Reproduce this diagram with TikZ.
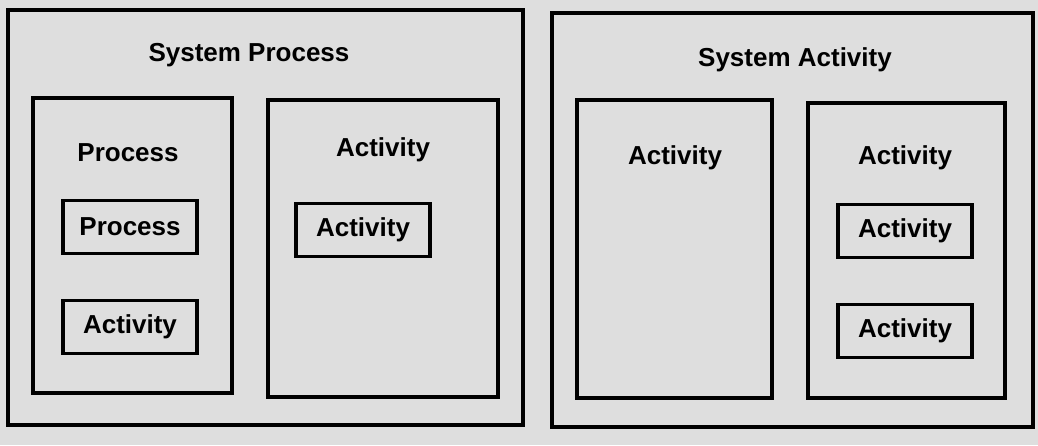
\documentclass[tikz,border=0pt]{standalone}
\usepackage{fontspec}
\setmainfont{Liberation Sans}
\definecolor{dither}{gray}{0.87}
\begin{document}
\begin{tikzpicture}[x=1pt,y=-1pt,
  frame/.style={draw=black,line width=3.4pt,fill=none},
  lbl/.style={font=\bfseries\fontsize{26}{29}\selectfont,inner sep=0pt,text=black},
  smallbox/.style={draw=black,line width=3.4pt,minimum width=134pt,minimum height=53pt,inner sep=0pt,font=\bfseries\fontsize{26}{29}\selectfont}]
\fill[dither] (0,0) rectangle (1038,445);
\useasboundingbox (0,0) rectangle (1038,445);
% left outer
\draw[frame] (8,10) rectangle (523,425);
\node[lbl] (sp) at (249,55) {System Process};
\draw[frame] (33,98) rectangle (232,393);
\node[lbl] (p1) at (128,153) {Process};
\node[smallbox] (p2) at (130,227) {Process};
\node[smallbox] (a1) at (130,327) {Activity};
\draw[frame] (268,100) rectangle (498,397);
\node[lbl] (a2) at (383,150) {Activity};
\node[smallbox] (a3) at (363,230) {Activity};
% right outer
\draw[frame] (552,13) rectangle (1033,427);
\node[lbl] (sa) at (795,60) {System Activity};
\draw[frame] (577,100) rectangle (772,398);
\node[lbl] (a4) at (675,158) {Activity};
\draw[frame] (808,103) rectangle (1005,398);
\node[lbl] (a5) at (905,158) {Activity};
\node[smallbox] (a6) at (905,231) {Activity};
\node[smallbox] (a7) at (905,331) {Activity};
\end{tikzpicture}
\end{document}
